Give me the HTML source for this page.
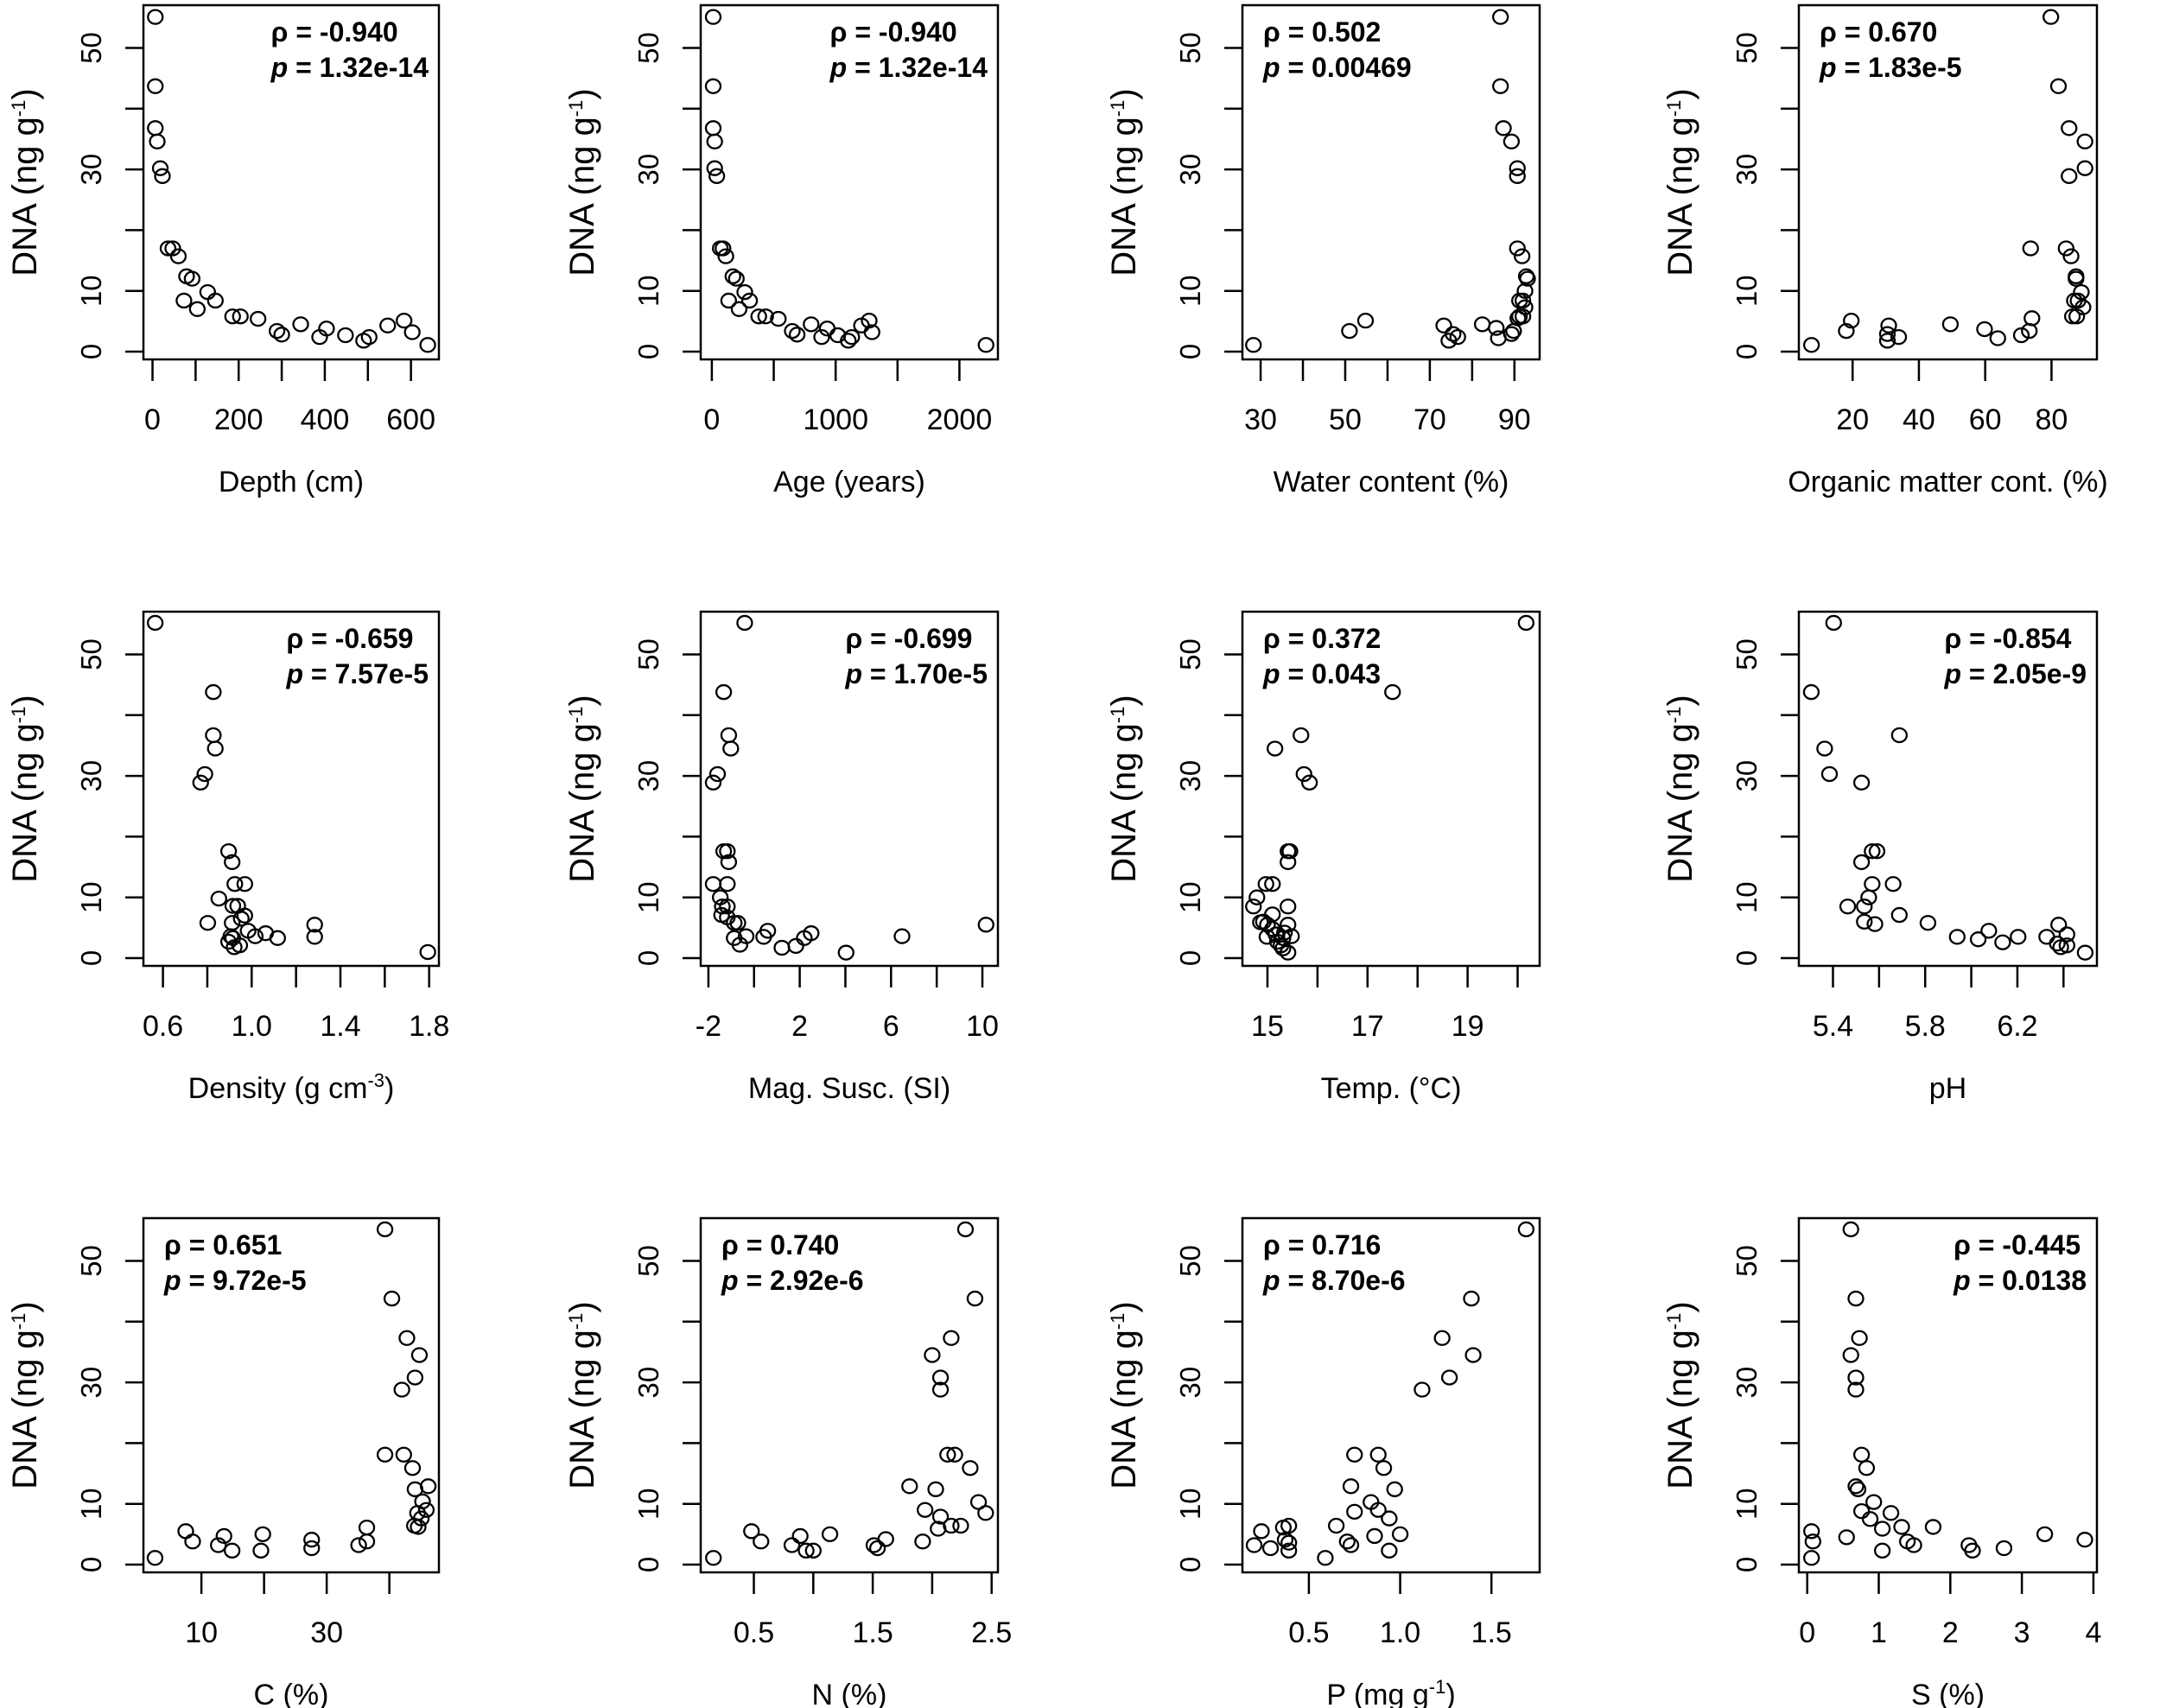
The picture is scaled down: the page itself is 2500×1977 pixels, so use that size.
<!DOCTYPE html>
<html><head><meta charset="utf-8"><title>DNA correlations</title>
<style>
html,body{margin:0;padding:0;background:#fff;}
svg{display:block;font-family:"Liberation Sans",Arial,sans-serif;}
</style></head>
<body>
<svg id="fig" width="2500" height="1977" viewBox="0 0 2500 1977" xmlns="http://www.w3.org/2000/svg"></svg>
<script>
// ---- data ----
const depthVals=[6.5,6.5,6.5,11,18,23,36,47,60,79,92,73,104,128,146,186,204,245,289,300,344,388,404,448,490,503,546,584,603,639];
const dnaDepth=[55.1,43.7,36.8,34.6,30.2,28.9,17,17,15.7,12.4,12,8.4,7,9.8,8.4,5.8,5.8,5.4,3.4,2.8,4.5,2.4,3.8,2.7,1.8,2.4,4.3,5.1,3.2,1.1];
const ageVals=[11,11,11,23,23,40,68,90,113,170,198,136,220,266,305,379,435,537,650,689,802,887,932,1017,1102,1130,1209,1271,1294,2215];
const dnaAge=[55.1,43.7,36.8,34.6,30.2,28.9,17,17,15.7,12.4,12,8.4,7,9.8,8.4,5.8,5.8,5.4,3.4,2.8,4.5,2.4,3.8,2.7,1.8,2.4,4.3,5.1,3.2,1.1];
const waterVals=[28.3,51.0,54.8,73.3,74.5,75.5,76.6,82.4,85.7,86.2,89.3,89.8,86.7,86.7,87.4,89.3,90.7,90.7,90.7,91.8,92.8,93.1,92.5,91.2,92.0,92.5,91.2,92.0,90.8];
const dnaWater=[1.1,3.4,5.1,4.3,1.8,2.9,2.4,4.5,3.9,2.2,2.9,3.4,55.1,43.7,36.8,34.6,30.2,28.9,17,15.7,12.4,12,10,8.4,8.4,7.3,5.8,5.8,5.5];
const omVals=[7.6,18.1,19.6,30.5,30.5,30.9,33.9,49.5,59.8,63.8,70.9,73.3,74.1,73.7,79.8,82.1,85.3,90.1,90.1,85.3,84.4,85.9,87.4,87.4,89.0,86.9,88.0,89.5,86.3,87.6];
const dnaOm=[1.1,3.4,5.1,2.9,1.8,4.3,2.4,4.5,3.7,2.2,2.7,3.4,5.5,17,55.1,43.7,36.8,34.6,30.2,28.9,17,15.7,12.4,12,9.8,8.4,8.4,7.3,5.8,5.8];
const densityVals=[0.565,0.827,0.827,0.836,0.789,0.770,0.896,0.912,0.924,0.969,0.852,0.915,0.937,0.969,0.953,0.802,0.912,0.984,0.906,0.915,0.896,0.921,0.946,1.016,1.063,1.117,1.284,1.284,1.794];
const dnaDensity=[55.2,43.8,36.7,34.5,30.3,28.9,17.6,15.8,12.2,12.2,9.8,8.6,8.6,7,6.5,5.8,5.8,4.5,3.6,3.3,2.7,1.8,2.1,3.6,4.1,3.3,5.5,3.5,1.0];
const magVals=[-0.41,-1.33,-1.11,-1.02,-1.60,-1.79,-1.33,-1.17,-1.11,-1.79,-1.17,-1.48,-1.39,-1.17,-1.42,-1.17,-0.87,-0.71,-0.87,-0.62,-0.35,0.42,0.60,1.22,1.83,2.20,2.50,4.03,6.48,10.16];
const dnaMag=[55.2,43.8,36.7,34.5,30.3,28.9,17.6,17.6,15.8,12.2,12.2,10,8.5,8.5,7.1,6.7,5.8,5.8,3.3,2.2,3.6,3.5,4.5,1.7,2,3.3,4.1,0.9,3.6,5.5];
const tempVals=[20.17,17.50,15.67,15.15,15.73,15.84,15.41,15.45,15.41,14.97,15.10,14.79,14.72,15.41,15.10,14.92,15.0,15.41,15.10,15.17,14.99,15.31,15.48,15.20,15.27,15.31,15.41,14.86,15.34];
const dnaTemp=[55.2,43.8,36.7,34.5,30.3,28.9,17.6,17.6,15.8,12.2,12.2,10,8.5,8.5,7.2,6,5.5,5.5,4.8,3.9,3.5,3.3,3.6,2.7,2.1,1.6,0.9,5.9,4.2];
const phVals=[5.306,5.403,5.364,5.385,5.524,5.688,5.524,5.570,5.591,5.570,5.661,5.555,5.464,5.536,5.688,5.536,5.582,5.812,5.939,6.030,6.076,6.136,6.203,6.327,6.379,6.373,6.388,6.415,6.415,6.494];
const dnaPh=[43.8,55.2,34.5,30.3,28.9,36.7,15.8,17.6,17.6,12.2,12.2,10,8.5,8.5,7.1,6,5.6,5.8,3.5,3.1,4.5,2.6,3.5,3.5,5.5,2.4,1.8,3.9,2.1,0.9];
const cVals=[2.6,7.5,8.6,12.7,13.6,14.9,19.5,19.8,27.6,27.6,35.1,36.4,36.4,39.3,40.4,42.8,44.8,44.1,42.0,39.3,42.3,43.7,44.1,46.2,45.3,45.9,44.5,45.1,44.0,44.6];
const dnaC=[1.1,5.5,3.8,3.2,4.7,2.3,2.3,5,4.1,2.7,3.2,3.8,6.1,55.2,43.8,37.3,34.5,30.8,28.8,18.1,18.1,15.9,12.4,12.9,10.4,9,8.5,7.6,6.4,6.2];
const nVals=[0.16,0.48,0.56,0.82,0.89,0.94,1.0,1.14,1.51,1.54,1.61,1.92,1.81,2.0,2.07,2.07,2.16,2.28,2.36,2.13,2.19,2.32,2.03,2.39,2.45,1.94,2.07,2.05,2.16,2.24];
const dnaN=[1.1,5.5,3.8,3.2,4.7,2.3,2.3,5,3.2,2.7,4.2,3.8,12.9,34.5,30.8,28.8,37.3,55.2,43.8,18.1,18.1,15.9,12.4,10.3,8.5,9,7.9,5.9,6.4,6.4];
const pVals=[0.20,0.24,0.29,0.36,0.37,0.39,0.39,0.39,0.59,0.65,0.71,0.73,0.75,0.73,0.75,0.84,0.86,0.88,0.88,0.91,0.94,0.94,0.97,1.0,1.12,1.23,1.27,1.39,1.40,1.69];
const dnaP=[3.2,5.5,2.7,6.1,4.1,6.4,3.6,2.3,1.1,6.4,3.8,3.2,8.7,12.9,18.1,10.3,4.7,18.1,9,15.9,7.6,2.3,12.4,5,28.8,37.3,30.8,43.8,34.5,55.2];
const sVals=[0.06,0.08,0.06,0.55,0.61,0.68,0.73,0.61,0.68,0.68,0.76,0.83,0.68,0.71,0.93,0.76,0.88,1.17,1.05,1.05,1.32,1.40,1.49,1.76,2.26,2.31,2.75,3.32,3.88];
const dnaS=[5.5,3.8,1.1,4.5,55.2,43.8,37.3,34.5,30.8,28.8,18.1,15.9,12.9,12.4,10.3,8.8,7.5,8.5,5.9,2.3,6.2,3.8,3.2,6.2,3.2,2.3,2.7,5,4.1];
const yTicks=[0,10,20,30,40,50];
const yTickLabels=["0","10","","30","","50"];
const xTicks1=[0,100,200,300,400,500,600];   const xLab1=["0","","200","","400","","600"];
const xTicks2=[0,500,1000,1500,2000];        const xLab2=["0","","1000","","2000"];
const xTicks3=[30,40,50,60,70,80,90];        const xLab3=["30","","50","","70","","90"];
const xTicks4=[20,40,60,80];                 const xLab4=["20","40","60","80"];
const xTicks5=[0.6,0.8,1.0,1.2,1.4,1.6,1.8];  const xLab5=["0.6","","1.0","","1.4","","1.8"];
const xTicks6=[-2,0,2,4,6,8,10];             const xLab6=["-2","","2","","6","","10"];
const xTicks7=[15,16,17,18,19,20];           const xLab7=["15","","17","","19",""];
const xTicks8=[5.4,5.6,5.8,6.0,6.2,6.4];     const xLab8=["5.4","","5.8","","6.2",""];
const xTicks9=[10,20,30,40];                 const xLab9=["10","","30",""];
const xTicks10=[0.5,1.0,1.5,2.0,2.5];        const xLab10=["0.5","","1.5","","2.5"];
const xTicks11=[0.5,1.0,1.5];                const xLab11=["0.5","1.0","1.5"];
const xTicks12=[0,1,2,3,4];                  const xLab12=["0","1","2","3","4"];
const rhoLabels=["-0.940","-0.940","0.502","0.670","-0.659","-0.699","0.372","-0.854","0.651","0.740","0.716","-0.445"];
const pLabels=["1.32e-14","1.32e-14","0.00469","1.83e-5","7.57e-5","1.70e-5","0.043","2.05e-9","9.72e-5","2.92e-6","8.70e-6","0.0138"];

// ---- layout ----
const colL=[166,811,1438,2082], colR=[508,1155,1782,2427];
const rowY0=[407,1109,1811];
const PXU=7.03;
const panels=[
 {x:depthVals,y:dnaDepth,dom:[-21.1,664.9],t:xTicks1,l:xLab1,title:"Depth (cm)",pos:"r",name:"depth"},
 {x:ageVals,y:dnaAge,dom:[-90,2311],t:xTicks2,l:xLab2,title:"Age (years)",pos:"r",name:"age"},
 {x:waterVals,y:dnaWater,dom:[25.7,95.96],t:xTicks3,l:xLab3,title:"Water content (%)",pos:"l",name:"water-content"},
 {x:omVals,y:dnaOm,dom:[3.79,93.7],t:xTicks4,l:xLab4,title:"Organic matter cont. (%)",pos:"l",name:"organic-matter"},
 {x:densityVals,y:dnaDensity,dom:[0.512,1.844],t:xTicks5,l:xLab5,title:"Density (g cm|-3|)",pos:"r",name:"density"},
 {x:magVals,y:dnaMag,dom:[-2.337,10.68],t:xTicks6,l:xLab6,title:"Mag. Susc. (SI)",pos:"r",name:"mag-susc"},
 {x:tempVals,y:dnaTemp,dom:[14.5,20.44],t:xTicks7,l:xLab7,title:"Temp. (°C)",pos:"l",name:"temperature"},
 {x:phVals,y:dnaPh,dom:[5.252,6.545],t:xTicks8,l:xLab8,title:"pH",pos:"r",name:"ph"},
 {x:cVals,y:dnaC,dom:[0.745,47.91],t:xTicks9,l:xLab9,title:"C (%)",pos:"l",name:"carbon"},
 {x:nVals,y:dnaN,dom:[0.053,2.553],t:xTicks10,l:xLab10,title:"N (%)",pos:"l",name:"nitrogen"},
 {x:pVals,y:dnaP,dom:[0.136,1.764],t:xTicks11,l:xLab11,title:"P (mg g|-1|)",pos:"l",name:"phosphorus"},
 {x:sVals,y:dnaS,dom:[-0.117,4.049],t:xTicks12,l:xLab12,title:"S (%)",pos:"r",name:"sulfur"}
];
const NS="http://www.w3.org/2000/svg";
const svg=document.getElementById("fig");
function mk(tag,attrs,parent){const e=document.createElementNS(NS,tag);for(const k in attrs)e.setAttribute(k,attrs[k]);(parent||svg).appendChild(e);return e;}
function addTitle(el,txt){
  const parts=txt.split("|");
  parts.forEach((p,i)=>{ if(!p)return; const ts=mk("tspan",{},el); ts.textContent=p;
    if(i%2===1){ts.setAttribute("font-size","22");ts.setAttribute("dy","-13");}
    else if(i>0){ts.setAttribute("dy","13");}
  });
}
panels.forEach((P,i)=>{
  const L=colL[i%4], R=colR[i%4], y0=rowY0[Math.floor(i/4)];
  const T=y0-401, B=y0+9;
  const sx=v=>L+(v-P.dom[0])/(P.dom[1]-P.dom[0])*(R-L);
  const sy=v=>y0-v*PXU;
  const g=mk("g",{});
  
  
  const box=mk("rect",{x:L,y:T,width:R-L,height:B-T,fill:"none",stroke:"#000","stroke-width":2.5},g);
  
  
  // y axis
  yTicks.forEach((v,k)=>{
    const tk=mk("line",{x1:L-21,x2:L,y1:sy(v),y2:sy(v),stroke:"#000","stroke-width":2.5},g);
    
    
    if(yTickLabels[k]){
      const t=mk("text",{x:0,y:0,"font-size":33,"text-anchor":"middle",transform:`translate(${L-49},${sy(v)}) rotate(-90)`},g);
      t.textContent=yTickLabels[k];
      
      
    }
  });
  const yt=mk("text",{x:0,y:0,"font-size":40,"text-anchor":"middle",transform:`translate(${L-124},${T+205}) rotate(-90)`},g);
  addTitle(yt,"DNA (ng g|-1|)");
  
  
  // x axis
  P.t.forEach((v,k)=>{
    const tk=mk("line",{x1:sx(v),x2:sx(v),y1:B,y2:B+25,stroke:"#000","stroke-width":2.5},g);
    
    
    if(P.l[k]){
      const t=mk("text",{x:sx(v),y:B+81,"font-size":34,"text-anchor":"middle"},g);
      t.textContent=P.l[k];
      
      
    }
  });
  const xt=mk("text",{x:(L+R)/2,y:B+153,"font-size":34,"text-anchor":"middle"},g);
  addTitle(xt,P.title);
  
  
  // points
  P.x.forEach((v,k)=>{
    const c=mk("ellipse",{cx:sx(v),cy:sy(P.y[k]),rx:8.5,ry:8,fill:"none",stroke:"#000","stroke-width":2.3},g);
    
    
  });
  // stats annotation
  const t1=mk("text",{x:0,y:T+42,"font-size":32,"font-weight":"bold"},g);
  t1.textContent="ρ = "+rhoLabels[i];
  
  
  const t2=mk("text",{x:0,y:T+83,"font-size":32,"font-weight":"bold"},g);
  const it=mk("tspan",{"font-style":"italic"},t2); it.textContent="p";
  const rest=mk("tspan",{},t2); rest.textContent=" = "+pLabels[i];
  
  
  let left;
  if(P.pos==="l"){left=L+24;}
  else{const w=Math.max(t1.getComputedTextLength(),t2.getComputedTextLength());left=R-12-w;}
  t1.setAttribute("x",left); t2.setAttribute("x",left);
});
</script>
</body></html>
